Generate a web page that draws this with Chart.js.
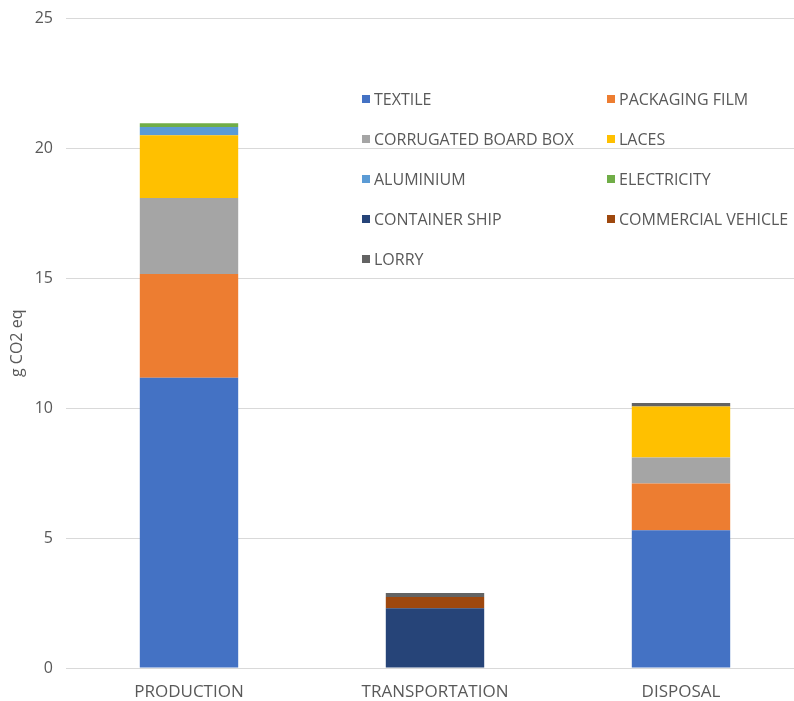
<!DOCTYPE html>
<html>
<head>
<meta charset="utf-8">
<script src="https://cdn.jsdelivr.net/npm/chart.js@4"></script>
<style>
  html, body { margin: 0; padding: 0; background: #fff; overflow: hidden; }
  #wrap { position: relative; width: 794px; height: 701px; overflow: hidden; }
  #box { position: absolute; left: 0; top: -4px; width: 804px; height: 705px; }
  #legend { position: absolute; left: 362px; top: 89px; width: 440px; font-family: 'Open Sans', sans-serif; font-size: 16px; color: #595959; }
  .item { position: absolute; white-space: nowrap; line-height: 20px; }
  .item span { display: inline-block; width: 8px; height: 8px; margin-right: 4px; vertical-align: 2px; }
</style>
</head>
<body>
<div id="wrap">
  <div id="box"><canvas id="chart"></canvas></div>
  <div id="legend"></div>
</div>
<script>
const stages = ['PRODUCTION', 'TRANSPORTATION', 'DISPOSAL'];

const textile    = [11.17, 0, 5.30];
const packaging  = [4.00, 0, 1.80];
const corrugated = [2.92, 0, 1.00];
const laces      = [2.42, 0, 1.97];
const aluminium  = [0.32, 0, 0];
const electricity = [0.14, 0, 0];
const containerShip = [0, 2.30, 0];
const commercialVehicle = [0, 0.43, 0];
const lorry      = [0, 0.16, 0.13];

const yTicks = [0, 5, 10, 15, 20, 25];

const series = [
  { label: 'TEXTILE', data: textile, color: '#4472C4' },
  { label: 'PACKAGING FILM', data: packaging, color: '#ED7D31' },
  { label: 'CORRUGATED BOARD BOX', data: corrugated, color: '#A5A5A5' },
  { label: 'LACES', data: laces, color: '#FFC000' },
  { label: 'ALUMINIUM', data: aluminium, color: '#5B9BD5' },
  { label: 'ELECTRICITY', data: electricity, color: '#70AD47' },
  { label: 'CONTAINER SHIP', data: containerShip, color: '#264478' },
  { label: 'COMMERCIAL VEHICLE', data: commercialVehicle, color: '#9E480E' },
  { label: 'LORRY', data: lorry, color: '#636363' },
];

// legend, two columns like the Excel original
const legend = document.getElementById('legend');
series.forEach((s, i) => {
  const d = document.createElement('div');
  d.className = 'item';
  d.style.left = (i % 2 ? 245 : 0) + 'px';
  d.style.top = (Math.floor(i / 2) * 40) + 'px';
  d.innerHTML = `<span style="background:${s.color}"></span>${s.label}`;
  legend.appendChild(d);
});

Chart.defaults.font.family = "'Open Sans', sans-serif";
Chart.defaults.font.size = 16;
Chart.defaults.color = '#595959';

new Chart(document.getElementById('chart'), {
  type: 'bar',
  data: {
    labels: stages,
    datasets: series.map(s => ({
      label: s.label,
      data: s.data,
      backgroundColor: s.color,
      borderWidth: 0,
      categoryPercentage: 1,
      barPercentage: 0.4,
    })),
  },
  options: {
    responsive: true,
    maintainAspectRatio: false,
    animation: false,
    layout: { padding: 0 },
    plugins: { legend: { display: false }, tooltip: { enabled: false } },
    scales: {
      x: {
        stacked: true,
        afterFit: axis => { axis.height = 33; },
        grid: { display: false, drawTicks: false },
        border: { display: false },
        ticks: { padding: 14, font: { size: 17 } },
      },
      y: {
        stacked: true,
        min: 0,
        max: 25,
        afterBuildTicks: axis => { axis.ticks = yTicks.map(v => ({ value: v })); },
        afterFit: axis => { axis.width = 66; },
        grid: { color: '#d9d9d9', drawTicks: false, lineWidth: 1 },
        border: { display: false },
        ticks: { padding: 13 },
        title: { display: true, text: 'g CO2 eq', padding: { top: 8, bottom: 0 } },
      },
    },
  },
});
</script>
</body>
</html>
